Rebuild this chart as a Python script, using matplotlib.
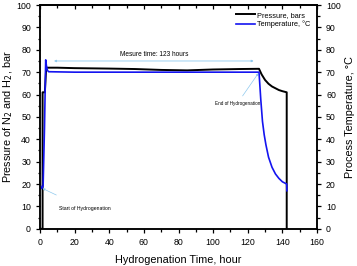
import matplotlib
matplotlib.use("Agg")
import matplotlib.pyplot as plt
from matplotlib.ticker import MultipleLocator

plt.rcParams["font.family"] = ["Liberation Sans", "DejaVu Sans"]

# ── Données ──────────────────────────────────────────────────────────────────
p_time = [0.0, 1.5, 1.5, 2.8, 3.6, 10, 20, 40, 55, 70, 85, 100, 115, 126.5,
          128, 130, 132, 134, 136, 138, 140, 142.5, 142.5]
p_val = [0.0, 0.0, 61, 61, 72, 72, 71.8, 71.6, 71.4, 71.0, 70.8, 71.2, 71.4, 71.5,
         69, 66.5, 64.8, 63.6, 62.8, 62.0, 61.5, 61.0, 0.0]

t_time = [0.5, 1.0, 1.8, 2.6, 3.3, 3.7, 4.3, 5.0, 20, 60, 100, 126.5,
          127.5, 128.5, 129.5, 130.5, 132, 134, 136, 138, 140, 142.5, 142.6]
t_val = [19, 18, 19, 45, 75.5, 73, 70.8, 70.2, 70, 70, 70, 70,
         58, 48, 42, 37.5, 32, 27.5, 24.5, 22.5, 21, 20, 17]

x_ticks = [0, 20, 40, 60, 80, 100, 120, 140, 160]
y_ticks = [0, 10, 20, 30, 40, 50, 60, 70, 80, 90, 100]

fig = plt.figure(figsize=(3.57, 2.66), dpi=100)
ax = fig.add_axes([0.112, 0.140, 0.776, 0.841])
ax2 = ax.twinx()

ax.plot(p_time, p_val, color="black", lw=1.4, label="Pressure, bars")
ax2.plot(t_time, t_val, color="#1414f0", lw=1.2, label="Temperature, °C")

for a in (ax, ax2):
    a.set_xlim(0, 160)
    a.set_ylim(0, 100)
    a.set_yticks(y_ticks)
    a.yaxis.set_minor_locator(MultipleLocator(5))
    for s in a.spines.values():
        s.set_linewidth(1.1)
    a.tick_params(axis="y", which="both", labelsize=6.3, width=0.9, direction="out")
    a.tick_params(which="major", length=3)
    a.tick_params(which="minor", length=1.8)
ax.set_xticks(x_ticks)
ax.xaxis.set_minor_locator(MultipleLocator(10))
ax.tick_params(axis="x", which="both", labelsize=6.3, width=0.9, direction="out")

# ticks du haut vers l'intérieur, sans étiquettes
top = ax.secondary_xaxis("top")
top.set_xticks(x_ticks)
top.xaxis.set_minor_locator(MultipleLocator(10))
top.tick_params(which="both", direction="in", width=0.9, labeltop=False)
top.tick_params(which="major", length=3)
top.tick_params(which="minor", length=1.8)
top.spines["top"].set_linewidth(1.1)

ax.set_xlabel("Hydrogenation Time, hour", fontsize=7.8, labelpad=6)
ax.set_ylabel("Pressure of N$_2$ and H$_2$, bar", fontsize=7.8, labelpad=1)
ax2.set_ylabel("Process Temperature, °C", fontsize=7.8, labelpad=3)

# ── Annotations ──────────────────────────────────────────────────────────────
ac = "#8ec9ee"
ax.annotate("", xy=(6.5, 75), xytext=(125, 75),
            arrowprops=dict(arrowstyle="<|-|>", color=ac, lw=0.6, mutation_scale=3))
ax.text(66, 78, "Mesure time: 123 hours", fontsize=4.7, ha="center", va="center")
ax.annotate("End of Hydrogenation", xy=(127, 70.5), xytext=(114, 56),
            fontsize=3.3, ha="center", va="center",
            arrowprops=dict(arrowstyle="-|>", color=ac, lw=0.5, mutation_scale=3))
ax.annotate("Start of Hydrogenation", xy=(1.5, 18), xytext=(26, 9),
            fontsize=3.7, ha="center", va="center",
            arrowprops=dict(arrowstyle="-|>", color=ac, lw=0.5, mutation_scale=3,
                            shrinkB=0, shrinkA=14))

h1, l1 = ax.get_legend_handles_labels()
h2, l2 = ax2.get_legend_handles_labels()
ax2.legend(h1 + h2, l1 + l2, loc="upper right", fontsize=5.3, frameon=False,
           handlelength=2.6, borderaxespad=0.5, labelspacing=0.25, handletextpad=0.3)

fig.savefig("out.png", dpi=100)
